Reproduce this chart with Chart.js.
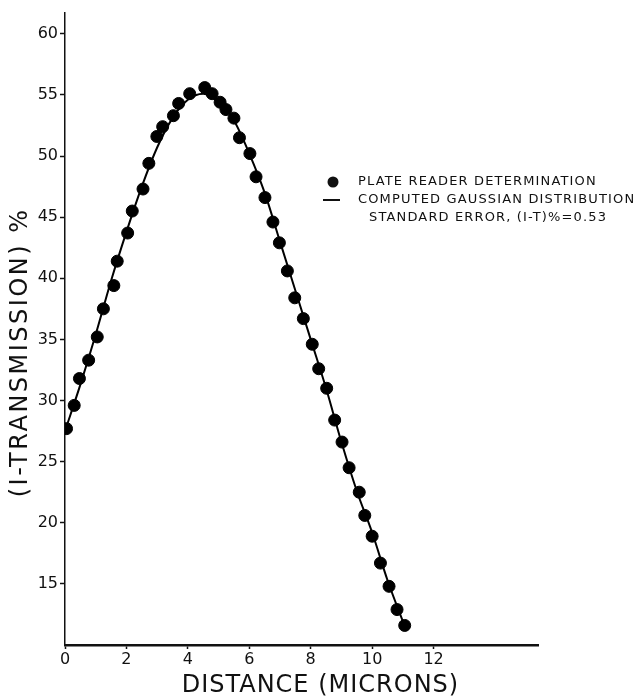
<!DOCTYPE html>
<html>
<head>
<meta charset="utf-8">
<script src="https://cdn.jsdelivr.net/npm/chart.js@4.4.0/dist/chart.umd.min.js"></script>
<style>
  html, body { margin: 0; padding: 0; background: #fff; }
  #wrap { width: 639px; height: 697px; }
</style>
</head>
<body>
<div id="wrap"><canvas id="c" width="639" height="697"></canvas></div>
<script>
// Measured points (plate reader determination)
const pointX = [0.05, 0.30, 0.47, 0.77, 1.05, 1.25, 1.59, 1.70, 2.04, 2.19, 2.54, 2.73, 2.99, 3.18, 3.53, 3.70, 4.06, 4.55, 4.79, 5.05, 5.24, 5.50, 5.68, 6.02, 6.22, 6.51, 6.77, 6.98, 7.24, 7.48, 7.76, 8.05, 8.26, 8.52, 8.78, 9.02, 9.25, 9.58, 9.76, 10.00, 10.27, 10.55, 10.81, 11.06];
const pointY = [27.7, 29.6, 31.8, 33.3, 35.2, 37.5, 39.4, 41.4, 43.7, 45.5, 47.3, 49.4, 51.6, 52.4, 53.3, 54.3, 55.1, 55.6, 55.1, 54.4, 53.8, 53.1, 51.5, 50.2, 48.3, 46.6, 44.6, 42.9, 40.6, 38.4, 36.7, 34.6, 32.6, 31.0, 28.4, 26.6, 24.5, 22.5, 20.6, 18.9, 16.7, 14.8, 12.9, 11.6];

// Computed Gaussian distribution curve
const curveX = [0, 0.5, 1.0, 1.5, 2.0, 2.5, 3.0, 3.5, 4.0, 4.5, 5.0, 5.5, 6.0, 6.5, 7.0, 7.5, 8.0, 8.5, 9.0, 9.5, 10.0, 10.5, 11.05];
const curveY = [27.5, 31.3, 35.4, 39.8, 43.8, 47.5, 50.7, 53.1, 54.6, 55.1, 54.4, 52.9, 50.2, 47.0, 43.0, 39.0, 35.0, 31.0, 26.6, 22.6, 19.2, 15.3, 11.6];

const xTickLabels = [0, 2, 4, 6, 8, 10, 12];
const yTickLabels = [15, 20, 25, 30, 35, 40, 45, 50, 55, 60];

const xTitle = "DISTANCE (MICRONS)";
const yTitle = "(I-TRANSMISSION) %";
const legendLines = ["PLATE READER DETERMINATION", "COMPUTED GAUSSIAN DISTRIBUTION", "STANDARD ERROR, (I-T)%=0.53"];

const FONT = "'DejaVu Sans', 'Liberation Sans', sans-serif";

const annot = {
  id: 'annot',
  afterDraw(chart) {
    const ctx = chart.ctx;
    const ca = chart.chartArea;
    ctx.save();
    ctx.fillStyle = '#111';
    ctx.strokeStyle = '#111';
    // x title
    ctx.font = "24px " + FONT;
    ctx.textAlign = 'center';
    ctx.textBaseline = 'middle';
    ctx.letterSpacing = '1px';
    ctx.fillText(xTitle, ca.left + (ca.right - ca.left) * 0.54, ca.bottom + 41);
    // y title
    ctx.save();
    ctx.letterSpacing = '2.5px';
    ctx.translate(21, ca.top + (ca.bottom - ca.top) * 0.537);
    ctx.rotate(-Math.PI / 2);
    ctx.fillText(yTitle, 0, 0);
    ctx.restore();
    // legend
    const lx = ca.right - 215;
    const ly = ca.top + 169;
    ctx.font = "13px " + FONT;
    ctx.letterSpacing = '1.15px';
    ctx.textAlign = 'left';
    ctx.beginPath();
    ctx.arc(lx + 10, ly, 5.5, 0, Math.PI * 2);
    ctx.fill();
    ctx.lineWidth = 2;
    ctx.beginPath();
    ctx.moveTo(lx, ly + 18);
    ctx.lineTo(lx + 17, ly + 18);
    ctx.stroke();
    ctx.fillText(legendLines[0], lx + 35, ly);
    ctx.fillText(legendLines[1], lx + 35, ly + 18);
    ctx.fillText(legendLines[2], lx + 46, ly + 36);
    ctx.restore();
  }
};

new Chart(document.getElementById('c'), {
  type: 'scatter',
  data: {
    datasets: [
      {
        label: legendLines[0],
        data: pointX.map((x, i) => ({ x, y: pointY[i] })),
        backgroundColor: '#000',
        borderColor: '#000',
        pointRadius: 6,
        pointHoverRadius: 6,
        showLine: false,
        order: 1
      },
      {
        label: legendLines[1],
        data: curveX.map((x, i) => ({ x, y: curveY[i] })),
        borderColor: '#000',
        borderWidth: 2,
        pointRadius: 0,
        showLine: true,
        cubicInterpolationMode: 'monotone',
        order: 2
      }
    ]
  },
  options: {
    responsive: false,
    animation: false,
    layout: { padding: { top: 13, right: 101, left: 0, bottom: 0 } },
    plugins: { legend: { display: false }, tooltip: { enabled: false } },
    scales: {
      x: {
        type: 'linear',
        min: 0,
        max: 15.4,
        afterBuildTicks: s => { s.ticks = xTickLabels.map(v => ({ value: v })); },
        afterFit: s => { s.height = 52; },
        ticks: { color: '#111', font: { family: FONT, size: 16 }, padding: 1, maxRotation: 0 },
        grid: { drawOnChartArea: false, tickLength: 4, color: '#111', tickWidth: 1.5 },
        border: { color: '#111', width: 2.5 }
      },
      y: {
        type: 'linear',
        min: 10,
        max: 61.7,
        afterBuildTicks: s => { s.ticks = yTickLabels.map(v => ({ value: v })); },
        afterFit: s => { s.width = 65; },
        ticks: { color: '#111', font: { family: FONT, size: 16 }, padding: 2 },
        grid: { drawOnChartArea: false, tickLength: 5, color: '#111', tickWidth: 1.5 },
        border: { color: '#111', width: 1.5 }
      }
    }
  },
  plugins: [annot]
});
</script>
</body>
</html>
